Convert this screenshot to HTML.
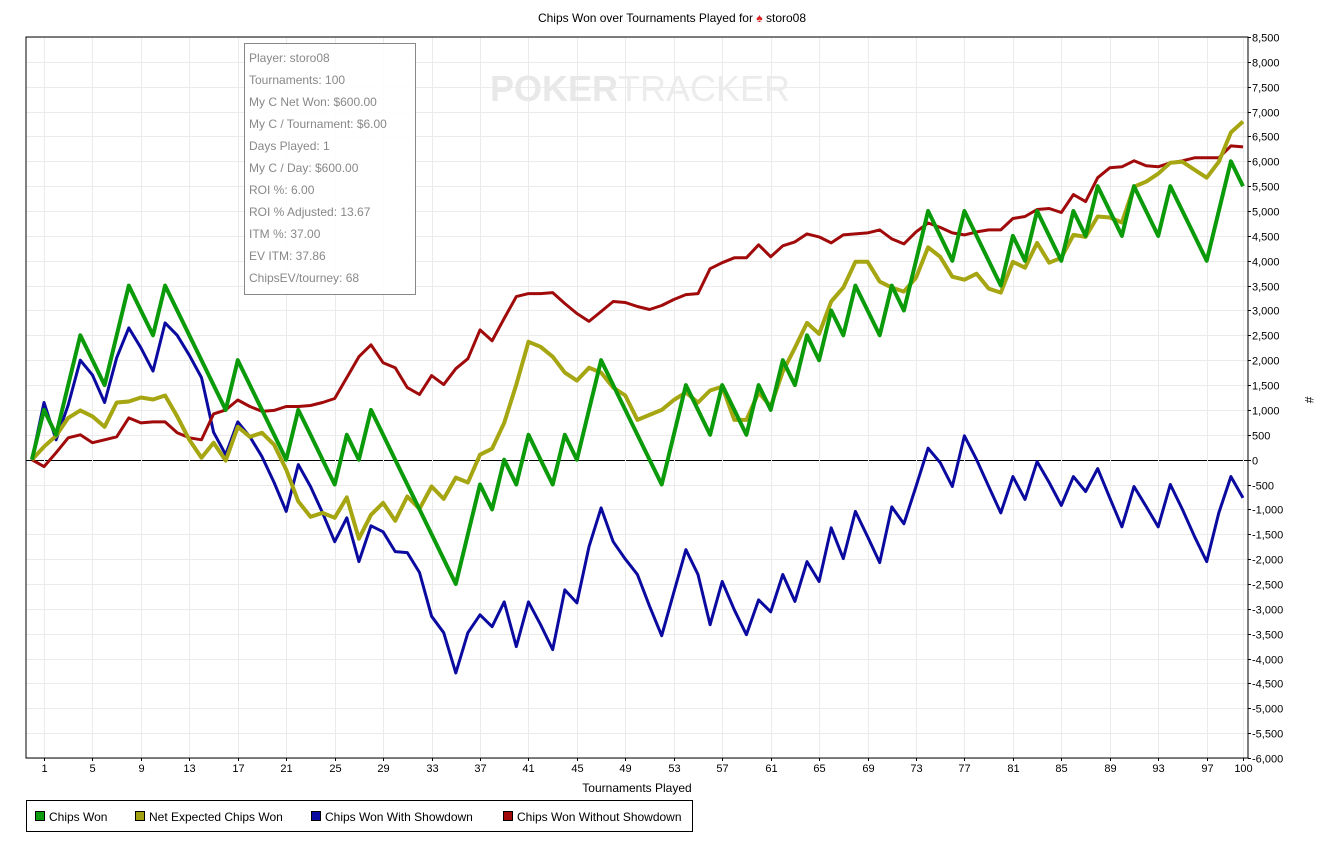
<!DOCTYPE html>
<html><head><meta charset="utf-8">
<style>
html,body{margin:0;padding:0;background:#fff;}
body{width:1339px;height:844px;overflow:hidden;font-family:"Liberation Sans",sans-serif;}
svg text{font-family:"Liberation Sans",sans-serif;}
</style></head>
<body>
<svg id="chart" width="1339" height="844" xmlns="http://www.w3.org/2000/svg">
  <text x="672" y="22" font-size="12" text-anchor="middle" fill="#000">Chips Won over Tournaments Played for <tspan fill="#d22">♠</tspan> storo08</text>
  <g id="grid"></g>
  <text x="640" y="101" font-size="36" font-weight="bold" text-anchor="middle" fill="#e8e8e8">POKER<tspan font-weight="normal" fill="#ececec">TRACKER</tspan></text>
  <g id="series"></g>
  <rect x="26" y="37" width="1222" height="721" fill="none" stroke="#000" stroke-width="1"/>
  <g id="yticks"></g>
  <g id="xticks"></g>
  <text x="637" y="792" font-size="12" text-anchor="middle">Tournaments Played</text>
  <text x="1305" y="400" font-size="12" text-anchor="middle" transform="rotate(90 1305 400)">#</text>
  <g>
    <rect x="244.5" y="43.5" width="171" height="251" fill="#fff" fill-opacity="0.9" stroke="#888"/>
    <g font-size="12" fill="#888">
      <text x="249" y="62">Player: storo08</text>
      <text x="249" y="84">Tournaments: 100</text>
      <text x="249" y="106">My C Net Won: $600.00</text>
      <text x="249" y="128">My C / Tournament: $6.00</text>
      <text x="249" y="150">Days Played: 1</text>
      <text x="249" y="172">My C / Day: $600.00</text>
      <text x="249" y="194">ROI %: 6.00</text>
      <text x="249" y="216">ROI % Adjusted: 13.67</text>
      <text x="249" y="238">ITM %: 37.00</text>
      <text x="249" y="260">EV ITM: 37.86</text>
      <text x="249" y="282">ChipsEV/tourney: 68</text>
    </g>
  </g>
  <g>
    <rect x="26.5" y="800.5" width="666" height="31" fill="#fff" stroke="#000"/>
    <g><rect x="35.5" y="811.5" width="9" height="9" fill="#0a9a0a" stroke="#000"/><text x="49" y="821" font-size="12">Chips Won</text></g>
    <g><rect x="135.5" y="811.5" width="9" height="9" fill="#a0a010" stroke="#000"/><text x="149" y="821" font-size="12">Net Expected Chips Won</text></g>
    <g><rect x="311.5" y="811.5" width="9" height="9" fill="#0a0aa0" stroke="#000"/><text x="325" y="821" font-size="12">Chips Won With Showdown</text></g>
    <g><rect x="503.5" y="811.5" width="9" height="9" fill="#a00a0a" stroke="#000"/><text x="517" y="821" font-size="12">Chips Won Without Showdown</text></g>
  </g>
</svg>
<script>
const chipsWon=[0,1000,500,1500,2500,2000,1500,2500,3500,3000,2500,3500,3000,2500,2000,1500,1000,2000,1500,1000,500,0,1000,500,0,-500,500,0,1000,500,0,-500,-1000,-1500,-2000,-2500,-1500,-500,-1000,0,-500,500,0,-500,500,0,1000,2000,1500,1000,500,0,-500,500,1500,1000,500,1500,1000,500,1500,1000,2000,1500,2500,2000,3000,2500,3500,3000,2500,3500,3000,4000,5000,4500,4000,5000,4500,4000,3500,4500,4000,5000,4500,4000,5000,4500,5500,5000,4500,5500,5000,4500,5500,5000,4500,4000,5000,6000,5500];
const netExpected=[0,260,480,840,990,870,660,1150,1170,1250,1210,1290,870,400,40,340,-20,660,460,540,300,-200,-840,-1150,-1070,-1170,-760,-1590,-1110,-870,-1230,-740,-990,-540,-790,-360,-460,100,220,740,1510,2370,2270,2070,1750,1590,1850,1750,1450,1290,800,900,1000,1200,1350,1150,1390,1470,800,800,1350,1070,1770,2250,2750,2530,3180,3460,3980,3980,3580,3460,3380,3660,4270,4080,3680,3620,3740,3440,3360,3980,3860,4360,3960,4060,4520,4480,4890,4870,4770,5490,5590,5750,5970,5990,5830,5670,5990,6580,6800];
const withShowdown=[0,1150,400,1100,2000,1700,1150,2050,2650,2250,1780,2750,2500,2100,1650,550,100,760,460,60,-460,-1040,-100,-540,-1070,-1650,-1170,-2050,-1330,-1450,-1850,-1870,-2270,-3150,-3480,-4290,-3480,-3120,-3360,-2860,-3760,-2860,-3320,-3820,-2620,-2880,-1750,-970,-1650,-2000,-2310,-2950,-3540,-2670,-1810,-2310,-3320,-2450,-3020,-3520,-2820,-3060,-2310,-2850,-2050,-2450,-1370,-1990,-1040,-1550,-2070,-950,-1290,-540,230,-60,-540,480,0,-540,-1070,-340,-800,-40,-460,-920,-340,-640,-180,-770,-1350,-540,-940,-1350,-500,-1000,-1550,-2050,-1070,-340,-770];
const withoutShowdown=[0,-140,140,440,500,340,400,460,840,740,760,760,540,440,400,920,1000,1200,1070,970,990,1070,1070,1090,1150,1230,1650,2070,2310,1950,1850,1450,1310,1690,1510,1830,2030,2610,2390,2840,3280,3340,3340,3360,3140,2940,2780,2980,3180,3160,3080,3020,3100,3220,3320,3340,3840,3960,4060,4060,4320,4080,4300,4380,4540,4480,4360,4520,4540,4560,4620,4440,4340,4580,4760,4670,4560,4520,4580,4620,4620,4850,4890,5030,5050,4970,5330,5190,5670,5870,5890,6010,5910,5890,5970,6010,6070,6070,6070,6310,6290];
const xTickLabels=[1,5,9,13,17,21,25,29,33,37,41,45,49,53,57,61,65,69,73,77,81,85,89,93,97,100];
const yMin=-6000, yMax=8500, yStep=500;

const NS="http://www.w3.org/2000/svg";
const L=26,R=1248,T=37,B=758;
function xs(i){return 31.9+i*(1243-31.9)/100;}
function ys(v){return B-(v-yMin)/(yMax-yMin)*(B-T);}
function mk(tag,attrs,parent){const e=document.createElementNS(NS,tag);for(const k in attrs)e.setAttribute(k,attrs[k]);parent.appendChild(e);return e;}
const grid=document.getElementById('grid'),yt=document.getElementById('yticks'),xt=document.getElementById('xticks'),ser=document.getElementById('series');
for(let v=yMin;v<=yMax;v+=yStep){
  const y=Math.round(ys(v))+0.5;
  const gl=mk('line',{x1:L,x2:R,y1:y,y2:y,stroke:v===0?'#000':'#ebebeb','stroke-width':1},grid);
  
  
  mk('line',{x1:R,x2:R+3,y1:y,y2:y,stroke:'#000'},yt);
  const t=mk('text',{x:R+4,y:y+4,'font-size':11,fill:'#000'},yt);
  t.textContent=v.toLocaleString('en-US');
  
  
}
xTickLabels.forEach(n=>{
  const x=Math.round(xs(n))+0.5;
  const gl=mk('line',{x1:x,x2:x,y1:T,y2:B,stroke:'#ebebeb'},grid);
  
  
  mk('line',{x1:x,x2:x,y1:B,y2:B+3,stroke:'#000'},xt);
  const t=mk('text',{x:x,y:772,'font-size':11,'text-anchor':'middle'},xt);
  t.textContent=n;
  
  
});
function line(data,color,w,name){
  const p=mk('polyline',{points:data.map((v,i)=>xs(i).toFixed(1)+','+ys(v).toFixed(1)).join(' '),fill:'none',stroke:color,'stroke-width':w,'stroke-linejoin':'round'},ser);
  
  
}
line(withShowdown,'#0a0aa0',3,'line-with-showdown');
line(withoutShowdown,'#a00a0a',3,'line-without-showdown');
line(netExpected,'#a6a612',4,'line-net-expected');
line(chipsWon,'#0a9a0a',4,'line-chips-won');
</script>
</body></html>
